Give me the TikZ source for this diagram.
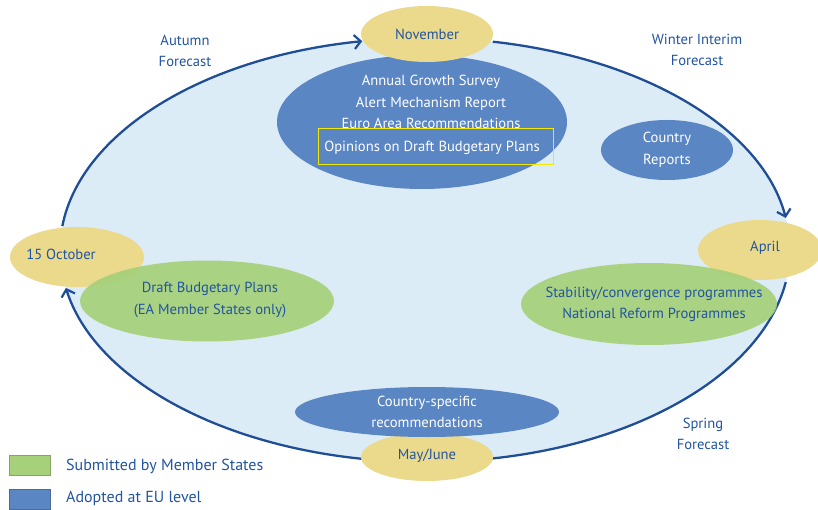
\documentclass[tikz,border=0pt]{standalone}
\usepackage{fontspec}
\setmainfont{PT Sans}
\usetikzlibrary{shapes.geometric,arrows.meta}
\definecolor{bgblue}{HTML}{DCECF7}
\definecolor{cyc}{HTML}{1F4E96}
\definecolor{eublue}{HTML}{5B86C4}
\definecolor{msgreen}{HTML}{A6D07A}
\definecolor{yel}{HTML}{EBD98C}
\definecolor{txtblue}{HTML}{2254A0}
\definecolor{rectyel}{HTML}{F2E800}
\begin{document}
\begin{tikzpicture}[x=1pt,y=1pt,
  every node/.style={font=\fontsize{14.6}{21.5}\selectfont, align=center},
  month/.style={ellipse, fill=yel, inner sep=0pt},
  eu/.style={ellipse, fill=eublue, inner sep=0pt, text=white},
  ms/.style={ellipse, fill=msgreen, fill opacity=0.92, text opacity=1, inner sep=0pt, text=txtblue},
  lbl/.style={text=txtblue, inner sep=0pt},
  wlbl/.style={text=white, inner sep=0pt},
  legtext/.style={text=txtblue, inner sep=0pt, anchor=west, font=\fontsize{16}{20}\selectfont},
  cycle/.style={draw=cyc, line width=2.3pt, -{Straight Barb[length=6.5pt,width=14pt,line width=2.2pt]}}
]
\useasboundingbox (0,0) rectangle (818,-510);
% background cycle area
\fill[bgblue] (425,-250) ellipse [x radius=365, y radius=212];
% arc end points on the cycle
\coordinate (octTop) at ({425+365*cos(173.5)},{-250+212*sin(173.5)});
\coordinate (novRight) at ({425+365*cos(79.3)},{-250+212*sin(79.3)});
\coordinate (aprBot) at ({425+365*cos(-8.7)},{-250+212*sin(-8.7)});
\coordinate (mayLeft) at ({425+365*cos(-99.9)},{-250+212*sin(-99.9)});
\draw[cycle] (octTop) arc [start angle=173.5, end angle=99.9, x radius=365, y radius=212];
\draw[cycle] (novRight) arc [start angle=79.3, end angle=8.7, x radius=365, y radius=212];
\draw[cycle] (aprBot) arc [start angle=-8.7, end angle=-84.2, x radius=365, y radius=212];
\draw[cycle] (mayLeft) arc [start angle=-99.9, end angle=-169.7, x radius=365, y radius=212];
% EU-level ellipses
\node[eu, minimum width=290pt, minimum height=134pt] (ags) at (422,-122) {};
\node[wlbl, anchor=north] (agstext) at (431,-75) {Annual Growth Survey\\Alert Mechanism Report\\Euro Area Recommendations};
\node[draw=rectyel, line width=1pt, minimum width=235pt, minimum height=36pt, inner sep=0pt] (opbox) at (435.5,-147) {};
\node[wlbl] (optext) at (432,-147.5) {Opinions on Draft Budgetary Plans};
\node[eu, minimum width=132pt, minimum height=60pt] (cr) at (667,-150) {Country\\Reports};
% month ellipses
\node[month, minimum width=132pt, minimum height=56pt] (nov) at (427,-34) {};
\node[lbl] (novtext) at (427,-34) {November};
\node[month, minimum width=134pt, minimum height=60pt] (oct) at (77,-257) {};
\node[lbl] (octtext) at (61,-254) {15 October};
\node[month, minimum width=124pt, minimum height=60pt] (apr) at (760,-250) {};
\node[lbl] (aprtext) at (765,-248) {April};
\node[month, minimum width=132pt, minimum height=48pt] (may) at (427,-457) {};
\node[lbl] (maytext) at (427,-456) {May/June};
\node[eu, minimum width=264pt, minimum height=50pt] (csr) at (427,-412) {Country-specific\\recommendations};
% member-state ellipses
\node[ms, minimum width=254pt, minimum height=81pt] (dbp) at (207,-301) {};
\node[lbl] (dbptext) at (210,-300) {Draft Budgetary Plans\\(EA Member States only)};
\node[ms, minimum width=256pt, minimum height=82pt] (scp) at (649,-304) {};
\node[lbl] (scptext) at (654,-304.5) {Stability/convergence programmes\\National Reform Programmes};
% forecast labels
\node[lbl] (autumn) at (185,-51) {Autumn\\Forecast};
\node[lbl] (winter) at (697,-50) {Winter Interim\\Forecast};
\node[lbl] (spring) at (703,-434) {Spring\\Forecast};
% legend
\node[fill=msgreen, draw=msgreen!80!black, line width=0.4pt, minimum width=41pt, minimum height=20pt, inner sep=0pt] (leg1) at (30,-465) {};
\node[fill=eublue, draw=eublue!80!black, line width=0.4pt, minimum width=41pt, minimum height=20pt, inner sep=0pt] (leg2) at (30,-499) {};
\node[legtext] (leg1t) at (66,-466) {Submitted by Member States};
\node[legtext] (leg2t) at (66,-498) {Adopted at EU level};
\end{tikzpicture}
\end{document}
